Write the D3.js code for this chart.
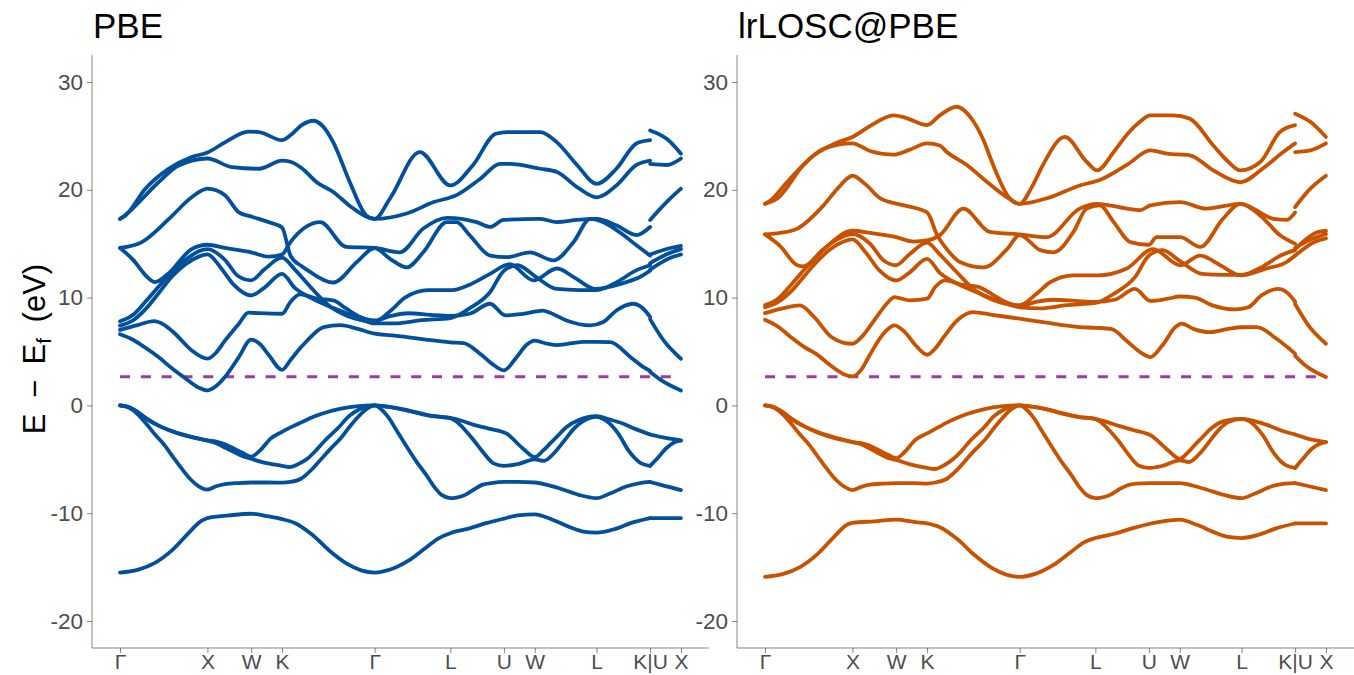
<!DOCTYPE html>
<html>
<head>
<meta charset="utf-8">
<script src="https://d3js.org/d3.v7.min.js"></script>
<style>
body { margin: 0; background: #fff; }
text { font-family: "Liberation Sans", Arial, sans-serif; }
</style>
</head>
<body>
<svg id="chart" width="1354" height="675"></svg>
<script>
// k-path (units of 2pi/a) and labels
const kTicks = [0, 1, 1.5, 1.854, 2.914, 3.780, 4.393, 4.746, 5.453, 6.066, 6.419];
const kLabels = ["Γ", "X", "W", "K", "Γ", "L", "U", "W", "L", "K|U", "X"];
const yTicks = [-20, -10, 0, 10, 20, 30];
const fermiLevel = 2.65;

// ---- PBE bands: [k, E] (a repeated k starts the U-X piece) ----
const pbe_v1 = [[0,-15.5],[0.2,-15.25],[0.4,-14.6],[0.6,-13.4],[0.8,-11.7],[0.93,-10.7],[1,-10.45],[1.25,-10.2],[1.5,-10.05],[1.7,-10.3],[1.854,-10.55],[2.0,-10.9],[2.2,-12.0],[2.4,-13.5],[2.6,-14.7],[2.76,-15.3],[2.914,-15.5],[3.1,-15.2],[3.3,-14.4],[3.5,-13.2],[3.65,-12.3],[3.78,-11.85],[4.0,-11.4],[4.2,-10.9],[4.393,-10.5],[4.55,-10.2],[4.746,-10.1],[4.95,-10.6],[5.15,-11.3],[5.3,-11.7],[5.453,-11.8],[5.65,-11.5],[5.85,-10.9],[6.066,-10.45],[6.066,-10.45],[6.419,-10.45]];
const pbe_v2 = [[0,0],[0.1,-0.2],[0.2,-0.8],[0.3,-1.7],[0.4,-2.7],[0.5,-3.6],[0.6,-4.7],[0.7,-5.8],[0.8,-6.8],[0.9,-7.5],[1,-7.8],[1.1,-7.5],[1.2,-7.3],[1.35,-7.2],[1.5,-7.15],[1.7,-7.15],[1.854,-7.17],[1.95,-7.1],[2.07,-6.8],[2.2,-5.9],[2.3,-5.0],[2.4,-4.1],[2.52,-3.1],[2.625,-2.0],[2.72,-1.1],[2.81,-0.4],[2.87,-0.1],[2.914,0],[2.98,-0.3],[3.08,-1.2],[3.17,-2.4],[3.24,-3.3],[3.31,-4.2],[3.4,-5.3],[3.5,-6.4],[3.6,-7.6],[3.68,-8.3],[3.78,-8.6],[3.85,-8.55],[3.95,-8.3],[4.05,-7.8],[4.15,-7.35],[4.25,-7.2],[4.393,-7.1],[4.55,-7.1],[4.746,-7.15],[4.9,-7.4],[5.05,-7.75],[5.25,-8.3],[5.453,-8.6],[5.6,-8.2],[5.8,-7.5],[5.95,-7.2],[6.066,-7.1],[6.066,-7.1],[6.2,-7.4],[6.419,-7.85]];
const pbe_v3 = [[0,0],[0.1,-0.17],[0.2,-0.62],[0.3,-1.22],[0.45,-1.92],[0.6,-2.42],[0.83,-2.97],[1,-3.27],[1.1,-3.5],[1.2,-3.9],[1.3,-4.3],[1.4,-4.7],[1.5,-4.95],[1.65,-5.3],[1.854,-5.6],[1.94,-5.72],[2.05,-5.4],[2.15,-4.9],[2.24,-4.2],[2.34,-3.3],[2.5,-2.05],[2.62,-1.0],[2.74,-0.35],[2.85,-0.05],[2.914,0],[3.0,-0.06],[3.2,-0.32],[3.45,-0.8],[3.6,-1.02],[3.78,-1.17],[3.85,-1.5],[3.95,-2.3],[4.05,-3.25],[4.15,-4.3],[4.28,-5.4],[4.393,-5.6],[4.55,-5.45],[4.746,-5.0],[4.85,-5.15],[4.97,-4.4],[5.1,-3.1],[5.2,-2.1],[5.3,-1.45],[5.453,-1.05],[5.55,-1.35],[5.7,-2.6],[5.82,-4.2],[5.95,-5.3],[6.066,-5.6],[6.066,-5.6],[6.15,-4.9],[6.26,-3.9],[6.35,-3.4],[6.419,-3.27]];
const pbe_v4 = [[0,0],[0.1,-0.15],[0.2,-0.6],[0.3,-1.2],[0.45,-1.9],[0.6,-2.4],[0.83,-2.95],[1,-3.25],[1.1,-3.35],[1.2,-3.6],[1.3,-4.0],[1.4,-4.4],[1.5,-4.75],[1.6,-4.2],[1.72,-3.1],[1.854,-2.45],[2.0,-1.85],[2.08,-1.55],[2.2,-1.1],[2.31,-0.77],[2.5,-0.35],[2.7,-0.08],[2.914,0],[3.0,-0.05],[3.2,-0.3],[3.455,-0.77],[3.6,-1.0],[3.78,-1.15],[3.9,-1.4],[4.05,-1.8],[4.22,-2.15],[4.42,-2.6],[4.61,-4.0],[4.746,-4.8],[4.84,-4.2],[4.92,-3.55],[5.0,-2.9],[5.11,-2.0],[5.25,-1.35],[5.453,-1.0],[5.6,-1.3],[5.76,-1.7],[5.9,-2.2],[6.066,-2.7],[6.066,-2.7],[6.2,-2.95],[6.419,-3.25]];

const pbe_c1 = [[0,6.6],[0.12,6.2],[0.25,5.57],[0.44,4.48],[0.6,3.4],[0.75,2.5],[0.9,1.65],[1,1.39],[1.1,1.8],[1.2,2.63],[1.36,4.48],[1.5,6.1],[1.6,5.7],[1.7,4.7],[1.854,3.3],[1.95,4.2],[2.05,5.2],[2.14,6.0],[2.33,7.27],[2.52,7.45],[2.72,7.1],[2.914,6.65],[3.1,6.5],[3.28,6.34],[3.5,6.1],[3.78,5.85],[3.93,5.78],[4.12,4.8],[4.25,3.9],[4.393,3.25],[4.54,4.5],[4.65,5.6],[4.746,6.0],[4.9,5.7],[5.0,5.6],[5.3,5.9],[5.453,5.9],[5.61,5.87],[5.84,4.5],[6.0,3.5],[6.066,3.2],[6.066,3.1],[6.2,2.3],[6.419,1.39]];
const pbe_c2 = [[0,7.0],[0.2,7.45],[0.39,7.82],[0.5,7.5],[0.63,6.65],[0.82,5.1],[1,4.33],[1.1,4.9],[1.2,6.0],[1.36,7.58],[1.47,8.6],[1.6,8.55],[1.854,8.5],[1.95,9.6],[2.06,10.3],[2.25,9.9],[2.44,9.74],[2.59,8.97],[2.75,8.2],[2.914,7.88],[3.1,8.3],[3.3,8.55],[3.55,8.4],[3.78,8.3],[4.0,8.5],[4.234,9.43],[4.41,8.35],[4.61,8.5],[4.84,8.8],[4.92,8.6],[5.11,7.88],[5.38,7.42],[5.53,7.73],[5.68,8.8],[5.87,9.43],[6.03,8.6],[6.066,8.2],[6.066,8.0],[6.22,6.03],[6.419,4.33]];
const pbe_c3 = [[0,7.4],[0.15,7.9],[0.3,9.0],[0.45,10.5],[0.6,12.0],[0.75,13.1],[0.9,13.8],[1,14.0],[1.15,12.8],[1.3,11.2],[1.5,10.2],[1.65,10.9],[1.854,12.2],[2.0,10.9],[2.2,9.9],[2.45,9.0],[2.7,8.2],[2.914,7.6],[3.15,7.6],[3.45,7.9],[3.78,8.1],[4.0,9.0],[4.234,10.5],[4.393,12.5],[4.55,13.0],[4.746,12.0],[5.0,10.8],[5.25,10.7],[5.453,10.7],[5.7,11.5],[5.9,12.5],[6.066,13.0],[6.066,13.2],[6.25,14.0],[6.419,14.5]];
const pbe_c4 = [[0,7.8],[0.15,8.4],[0.3,9.7],[0.45,11.1],[0.6,12.4],[0.75,13.5],[0.9,14.3],[1,14.5],[1.2,13.5],[1.35,12.0],[1.5,11.6],[1.65,12.6],[1.854,13.7],[2.0,12.6],[2.2,10.8],[2.4,9.2],[2.6,8.3],[2.914,7.8],[3.1,8.8],[3.26,10.0],[3.53,10.7],[3.8,10.7],[4.0,11.2],[4.234,12.2],[4.46,13.1],[4.73,11.6],[5.0,12.7],[5.21,11.8],[5.44,10.8],[5.74,11.3],[5.97,12.0],[6.066,12.5],[6.066,12.6],[6.3,13.7],[6.419,14.0]];
const pbe_c5 = [[0,14.6],[0.15,13.5],[0.3,12.0],[0.4,11.44],[0.55,12.2],[0.82,14.5],[1,14.9],[1.2,14.6],[1.5,14.2],[1.7,13.8],[1.854,14.0],[1.95,15.15],[2.29,17.0],[2.59,14.7],[2.914,14.6],[3.2,14.2],[3.47,16.4],[3.74,17.4],[4.08,17.0],[4.234,16.55],[4.39,17.2],[4.81,17.3],[5.0,17.0],[5.23,17.2],[5.455,17.3],[5.68,16.7],[5.91,15.8],[6.066,16.55],[6.066,17.2],[6.26,18.9],[6.419,20.1]];
const pbe_c6 = [[0,14.6],[0.25,15.15],[0.56,17.3],[0.82,19.3],[1,20.1],[1.2,19.5],[1.36,17.9],[1.51,17.5],[1.7,17.0],[1.854,16.5],[1.95,13.9],[2.08,12.9],[2.17,12.4],[2.44,11.4],[2.71,13.3],[2.914,14.6],[3.09,13.6],[3.28,12.8],[3.47,14.2],[3.74,17.0],[3.85,17.0],[4.0,15.8],[4.234,13.9],[4.43,13.75],[4.69,14.2],[4.96,13.45],[5.19,15.15],[5.38,17.3],[5.53,17.0],[5.76,15.8],[5.91,14.85],[6.066,13.9],[6.066,14.0],[6.3,14.6],[6.419,14.8]];
const pbe_c7 = [[0,17.3],[0.1,17.93],[0.44,20.7],[0.67,22.25],[1,22.9],[1.28,22.1],[1.59,21.95],[1.854,22.7],[1.95,22.6],[2.08,22.0],[2.25,20.7],[2.44,19.8],[2.63,18.5],[2.82,17.5],[2.914,17.3],[3.28,17.8],[3.59,18.86],[3.85,19.5],[4.12,21.0],[4.35,22.4],[4.46,22.4],[4.81,21.95],[5.0,21.65],[5.23,20.25],[5.455,19.3],[5.68,20.4],[5.91,22.3],[6.066,22.7],[6.066,22.4],[6.26,22.3],[6.419,22.9]];
const pbe_c8 = [[0,17.3],[0.06,17.6],[0.29,20.1],[0.56,21.96],[0.82,23.04],[1,23.45],[1.2,24.4],[1.47,25.4],[1.59,25.35],[1.854,24.6],[1.95,25.05],[2.08,26.0],[2.21,26.4],[2.32,25.9],[2.44,24.4],[2.63,20.7],[2.82,17.6],[2.914,17.3],[3.09,19.2],[3.43,23.5],[3.78,20.4],[4.04,22.3],[4.3,25.2],[4.43,25.35],[4.81,25.35],[5.0,24.4],[5.23,22.3],[5.455,20.55],[5.68,21.95],[5.91,24.3],[6.066,24.6],[6.066,25.5],[6.26,24.7],[6.419,23.35]];

// ---- lrLOSC@PBE bands ----
const losc_v1 = [[0,-15.9],[0.2,-15.65],[0.4,-15.0],[0.6,-13.8],[0.8,-12.1],[0.93,-11.1],[1,-10.9],[1.25,-10.75],[1.5,-10.6],[1.7,-10.8],[1.854,-10.95],[2.0,-11.3],[2.2,-12.4],[2.4,-13.9],[2.6,-15.1],[2.76,-15.7],[2.914,-15.9],[3.1,-15.6],[3.3,-14.8],[3.5,-13.6],[3.65,-12.7],[3.78,-12.3],[4.0,-11.9],[4.2,-11.4],[4.393,-11.0],[4.55,-10.75],[4.746,-10.6],[4.95,-11.1],[5.15,-11.8],[5.3,-12.2],[5.453,-12.3],[5.65,-12.0],[5.85,-11.4],[6.066,-10.95],[6.066,-10.95],[6.419,-10.95]];
const losc_v2 = [[0,0],[0.1,-0.2],[0.2,-0.8],[0.3,-1.7],[0.4,-2.7],[0.5,-3.6],[0.6,-4.7],[0.7,-5.8],[0.8,-6.8],[0.9,-7.5],[1,-7.85],[1.1,-7.55],[1.2,-7.35],[1.35,-7.25],[1.5,-7.2],[1.7,-7.2],[1.854,-7.25],[1.95,-7.15],[2.07,-6.85],[2.2,-5.95],[2.3,-5.05],[2.4,-4.15],[2.52,-3.15],[2.625,-2.05],[2.72,-1.15],[2.81,-0.4],[2.87,-0.1],[2.914,0],[2.98,-0.3],[3.08,-1.2],[3.17,-2.4],[3.24,-3.3],[3.31,-4.2],[3.4,-5.3],[3.5,-6.4],[3.6,-7.6],[3.68,-8.3],[3.78,-8.6],[3.85,-8.55],[3.95,-8.3],[4.05,-7.8],[4.15,-7.4],[4.25,-7.25],[4.393,-7.2],[4.55,-7.2],[4.746,-7.2],[4.9,-7.45],[5.05,-7.8],[5.25,-8.3],[5.453,-8.6],[5.6,-8.2],[5.8,-7.5],[5.95,-7.25],[6.066,-7.2],[6.066,-7.2],[6.2,-7.45],[6.419,-7.85]];
const losc_v3 = [[0,0],[0.1,-0.17],[0.2,-0.62],[0.3,-1.25],[0.45,-1.95],[0.6,-2.5],[0.83,-3.1],[1,-3.4],[1.1,-3.6],[1.2,-4.0],[1.3,-4.45],[1.4,-4.85],[1.5,-5.05],[1.65,-5.45],[1.854,-5.8],[1.94,-5.9],[2.05,-5.55],[2.15,-5.0],[2.24,-4.3],[2.34,-3.35],[2.5,-2.1],[2.62,-1.0],[2.74,-0.35],[2.85,-0.05],[2.914,0],[3.0,-0.06],[3.2,-0.33],[3.45,-0.85],[3.6,-1.08],[3.78,-1.25],[3.85,-1.6],[3.95,-2.4],[4.05,-3.35],[4.15,-4.45],[4.28,-5.6],[4.393,-5.8],[4.55,-5.6],[4.746,-5.1],[4.85,-5.25],[4.97,-4.5],[5.1,-3.2],[5.2,-2.2],[5.3,-1.55],[5.453,-1.25],[5.55,-1.5],[5.7,-2.8],[5.82,-4.4],[5.95,-5.5],[6.066,-5.8],[6.066,-5.8],[6.15,-5.0],[6.26,-4.0],[6.35,-3.55],[6.419,-3.4]];
const losc_v4 = [[0,0],[0.1,-0.15],[0.2,-0.6],[0.3,-1.22],[0.45,-1.95],[0.6,-2.48],[0.83,-3.05],[1,-3.4],[1.1,-3.5],[1.2,-3.75],[1.3,-4.15],[1.4,-4.55],[1.5,-4.9],[1.6,-4.3],[1.72,-3.2],[1.854,-2.6],[2.0,-1.95],[2.08,-1.6],[2.2,-1.15],[2.31,-0.8],[2.5,-0.36],[2.7,-0.08],[2.914,0],[3.0,-0.05],[3.2,-0.32],[3.455,-0.82],[3.6,-1.08],[3.78,-1.24],[3.9,-1.5],[4.05,-1.9],[4.22,-2.3],[4.42,-2.8],[4.61,-4.15],[4.746,-4.95],[4.84,-4.35],[4.92,-3.65],[5.0,-3.0],[5.11,-2.1],[5.25,-1.45],[5.453,-1.24],[5.6,-1.45],[5.76,-1.85],[5.9,-2.3],[6.066,-2.7],[6.066,-2.7],[6.2,-3.05],[6.419,-3.4]];

const losc_c1 = [[0,7.95],[0.15,7.3],[0.3,6.3],[0.45,5.4],[0.58,4.8],[0.75,3.7],[0.9,2.9],[1,2.69],[1.1,3.3],[1.2,4.7],[1.35,6.6],[1.48,7.42],[1.6,6.8],[1.72,5.6],[1.854,4.7],[1.95,5.3],[2.05,6.4],[2.2,7.9],[2.38,8.66],[2.6,8.4],[2.914,8.04],[3.2,7.7],[3.6,7.27],[3.78,7.2],[3.96,7.1],[4.15,5.9],[4.3,4.9],[4.41,4.48],[4.55,5.6],[4.7,7.3],[4.77,7.58],[4.9,7.1],[5.09,6.8],[5.3,7.1],[5.453,7.25],[5.63,7.27],[5.85,6.2],[6.066,4.8],[6.066,4.6],[6.2,3.6],[6.419,2.63]];
const losc_c2 = [[0,8.56],[0.2,9.0],[0.4,9.28],[0.55,8.3],[0.76,6.34],[0.9,5.8],[1,5.72],[1.1,6.3],[1.25,7.9],[1.4,9.5],[1.48,10.05],[1.66,9.74],[1.854,9.9],[1.95,11.0],[2.06,11.6],[2.25,11.2],[2.44,11.0],[2.6,10.3],[2.75,9.6],[2.914,9.2],[3.1,9.6],[3.3,9.8],[3.55,9.7],[3.78,9.6],[4.0,9.8],[4.234,10.8],[4.41,9.7],[4.61,9.9],[4.746,10.1],[4.92,10.0],[5.11,9.3],[5.38,8.9],[5.53,9.1],[5.68,10.2],[5.87,10.8],[6.03,10.0],[6.066,9.6],[6.066,9.4],[6.22,7.4],[6.419,5.72]];
const losc_c3 = [[0,9.1],[0.15,9.6],[0.3,10.6],[0.45,12.0],[0.6,13.4],[0.75,14.5],[0.9,15.2],[1,15.4],[1.15,14.2],[1.3,12.6],[1.5,11.6],[1.65,12.3],[1.854,13.6],[2.0,12.3],[2.2,11.3],[2.45,10.4],[2.7,9.6],[2.914,9.1],[3.15,9.0],[3.45,9.3],[3.78,9.5],[4.0,10.4],[4.234,11.9],[4.393,13.9],[4.55,14.4],[4.746,13.4],[5.0,12.2],[5.25,12.1],[5.453,12.1],[5.7,12.9],[5.9,13.9],[6.066,14.4],[6.066,14.6],[6.25,15.4],[6.419,15.9]];
const losc_c4 = [[0,9.3],[0.15,9.9],[0.3,11.2],[0.45,12.6],[0.6,13.9],[0.75,15.0],[0.9,15.7],[1,15.9],[1.2,15.0],[1.35,13.5],[1.5,13.0],[1.65,14.0],[1.854,15.1],[2.0,14.0],[2.2,12.3],[2.4,10.7],[2.6,9.8],[2.914,9.3],[3.1,10.3],[3.26,11.4],[3.53,12.06],[3.8,12.06],[4.14,12.7],[4.44,14.5],[4.75,13.0],[4.98,13.9],[5.21,13.0],[5.44,12.06],[5.74,12.7],[5.97,13.3],[6.066,13.9],[6.066,13.9],[6.3,15.2],[6.419,15.5]];
const losc_c5 = [[0,15.86],[0.17,14.8],[0.37,13.0],[0.44,12.9],[0.67,14.5],[1,16.2],[1.2,16.0],[1.5,15.6],[1.7,15.2],[1.854,15.3],[2.0,15.8],[2.27,18.25],[2.57,16.1],[2.914,15.86],[3.22,15.6],[3.6,18.25],[3.8,18.7],[4.14,18.25],[4.29,18.1],[4.41,18.55],[4.75,18.86],[5.05,18.25],[5.44,18.7],[5.82,17.3],[5.97,17.2],[6.066,17.9],[6.066,18.4],[6.24,20.1],[6.419,21.3]];
const losc_c6 = [[0,15.86],[0.17,16.0],[0.37,16.4],[0.67,18.55],[0.85,20.3],[1,21.3],[1.15,20.5],[1.32,19.2],[1.59,18.55],[1.854,17.9],[1.97,15.8],[2.08,14.5],[2.23,13.3],[2.5,12.8],[2.77,14.5],[2.914,15.8],[3.15,14.4],[3.3,14.2],[3.53,16.1],[3.68,18.25],[3.83,18.55],[3.99,17.0],[4.18,15.15],[4.393,14.9],[4.48,15.6],[4.75,15.6],[4.98,14.7],[5.24,17.3],[5.44,18.7],[5.67,17.6],[5.89,15.8],[6.066,15.0],[6.066,14.5],[6.3,16.0],[6.419,16.2]];
const losc_c7 = [[0,18.7],[0.14,19.2],[0.44,22.3],[0.67,23.8],[1,24.3],[1.2,23.6],[1.47,23.26],[1.65,23.7],[1.854,24.3],[2.0,24.1],[2.08,23.5],[2.31,22.3],[2.5,21.0],[2.77,19.3],[2.914,18.7],[3.26,19.3],[3.6,20.4],[3.83,20.9],[4.14,22.3],[4.41,23.65],[4.6,23.35],[4.86,23.2],[5.13,21.8],[5.44,20.7],[5.7,22.0],[5.93,23.5],[6.066,24.3],[6.066,23.5],[6.24,23.65],[6.419,24.3]];
const losc_c8 = [[0,18.7],[0.06,19.0],[0.25,20.7],[0.56,23.2],[0.8,24.3],[1,24.9],[1.2,25.9],[1.47,26.9],[1.6,26.7],[1.854,26.0],[2.0,26.9],[2.19,27.7],[2.38,26.4],[2.5,24.6],[2.61,22.3],[2.8,19.2],[2.914,18.7],[3.05,20.2],[3.18,22.3],[3.43,24.9],[3.68,22.6],[3.8,21.8],[3.99,23.5],[4.15,25.2],[4.29,26.3],[4.41,26.9],[4.67,26.9],[4.86,26.6],[5.13,24.1],[5.3,22.6],[5.44,21.8],[5.67,22.6],[5.89,25.35],[6.066,26.0],[6.066,27.06],[6.24,26.3],[6.419,24.9]];

const pbeBands = [pbe_v1, pbe_v2, pbe_v3, pbe_v4, pbe_c1, pbe_c2, pbe_c3, pbe_c4, pbe_c5, pbe_c6, pbe_c7, pbe_c8];
const loscBands = [losc_v1, losc_v2, losc_v3, losc_v4, losc_c1, losc_c2, losc_c3, losc_c4, losc_c5, losc_c6, losc_c7, losc_c8];

const panels = [
  { title: "PBE", left: 92, color: "#02509c", bands: pbeBands },
  { title: "lrLOSC@PBE", left: 737, color: "#c85200", bands: loscBands }
];

// Dimensions
const plotTop = 55, plotBottom = 648, panelW = 617;
const svg = d3.select("#chart");

const kPad = (kTicks[kTicks.length - 1] - kTicks[0]) * 0.05;
const yScale = d3.scaleLinear().domain([-22.5, 32.5]).range([plotBottom, plotTop]);

// split a band where k restarts (K|U break)
function pieces(band) {
  const out = [];
  let cur = [];
  band.forEach(function(p, i) {
    if (i > 0 && p[0] <= band[i - 1][0]) { out.push(cur); cur = []; }
    cur.push(p);
  });
  out.push(cur);
  return out;
}

panels.forEach(function(pan) {
  const xScale = d3.scaleLinear()
    .domain([kTicks[0] - kPad, kTicks[kTicks.length - 1] + kPad])
    .range([pan.left, pan.left + panelW]);

  const g = svg.append("g");

  // title
  g.append("text")
    .attr("x", pan.left + 1)
    .attr("y", 38)
    .attr("font-size", "35px")
    .attr("fill", "#000")
    .text(pan.title);

  // Fermi level
  g.append("line")
    .attr("x1", xScale(kTicks[0])).attr("x2", xScale(kTicks[kTicks.length - 1]))
    .attr("y1", yScale(fermiLevel)).attr("y2", yScale(fermiLevel))
    .attr("stroke", "#9b3aa3")
    .attr("stroke-width", 3)
    .attr("stroke-dasharray", "10,10.8");

  // bands
  const line = d3.line()
    .x(function(d) { return xScale(d[0]); })
    .y(function(d) { return yScale(d[1]); })
    .curve(d3.curveMonotoneX);

  pan.bands.forEach(function(band) {
    pieces(band).forEach(function(seg) {
      g.append("path")
        .datum(seg)
        .attr("d", line)
        .attr("fill", "none")
        .attr("stroke", pan.color)
        .attr("stroke-width", 3.8)
        .attr("stroke-linecap", "round")
        .attr("stroke-linejoin", "round");
    });
  });

  // axes
  const yAxis = g.append("g")
    .attr("transform", "translate(" + pan.left + ",0)")
    .call(d3.axisLeft(yScale).tickValues(yTicks).tickSize(5).tickPadding(4)
      .tickFormat(function(d) { return String(d); }));
  const xAxis = g.append("g")
    .attr("transform", "translate(0," + plotBottom + ")")
    .call(d3.axisBottom(xScale).tickValues(kTicks).tickSize(5).tickPadding(2)
      .tickFormat(function(d, i) { return kLabels[i]; }));

  [yAxis, xAxis].forEach(function(ax) {
    ax.select(".domain").attr("stroke", "#333").attr("stroke-width", 0.6);
    ax.selectAll(".tick line").attr("stroke", "#333").attr("stroke-width", 0.6);
    ax.selectAll(".tick text")
      .attr("fill", "#4d4d4d")
      .attr("font-family", "Liberation Sans, Arial, sans-serif");
  });
  yAxis.selectAll(".tick text").attr("font-size", "22.5px");
  xAxis.selectAll(".tick text").attr("font-size", "21px").attr("dy", "0.68em");
  yAxis.select(".domain").attr("d", "M0," + plotTop + "V" + plotBottom);
  xAxis.select(".domain").attr("d", "M" + pan.left + ",0H" + (pan.left + panelW));
});

// y axis title
const ylab = svg.append("text")
  .attr("transform", "translate(45,349) rotate(-90)")
  .attr("text-anchor", "middle")
  .attr("font-size", "31px")
  .attr("fill", "#000");
ylab.append("tspan").text("E\u2002\u2212\u2002E");
ylab.append("tspan").attr("font-size", "21px").attr("dy", 6).text("f");
ylab.append("tspan").attr("dy", -6).text("\u2002(eV)");
</script>
</body>
</html>
